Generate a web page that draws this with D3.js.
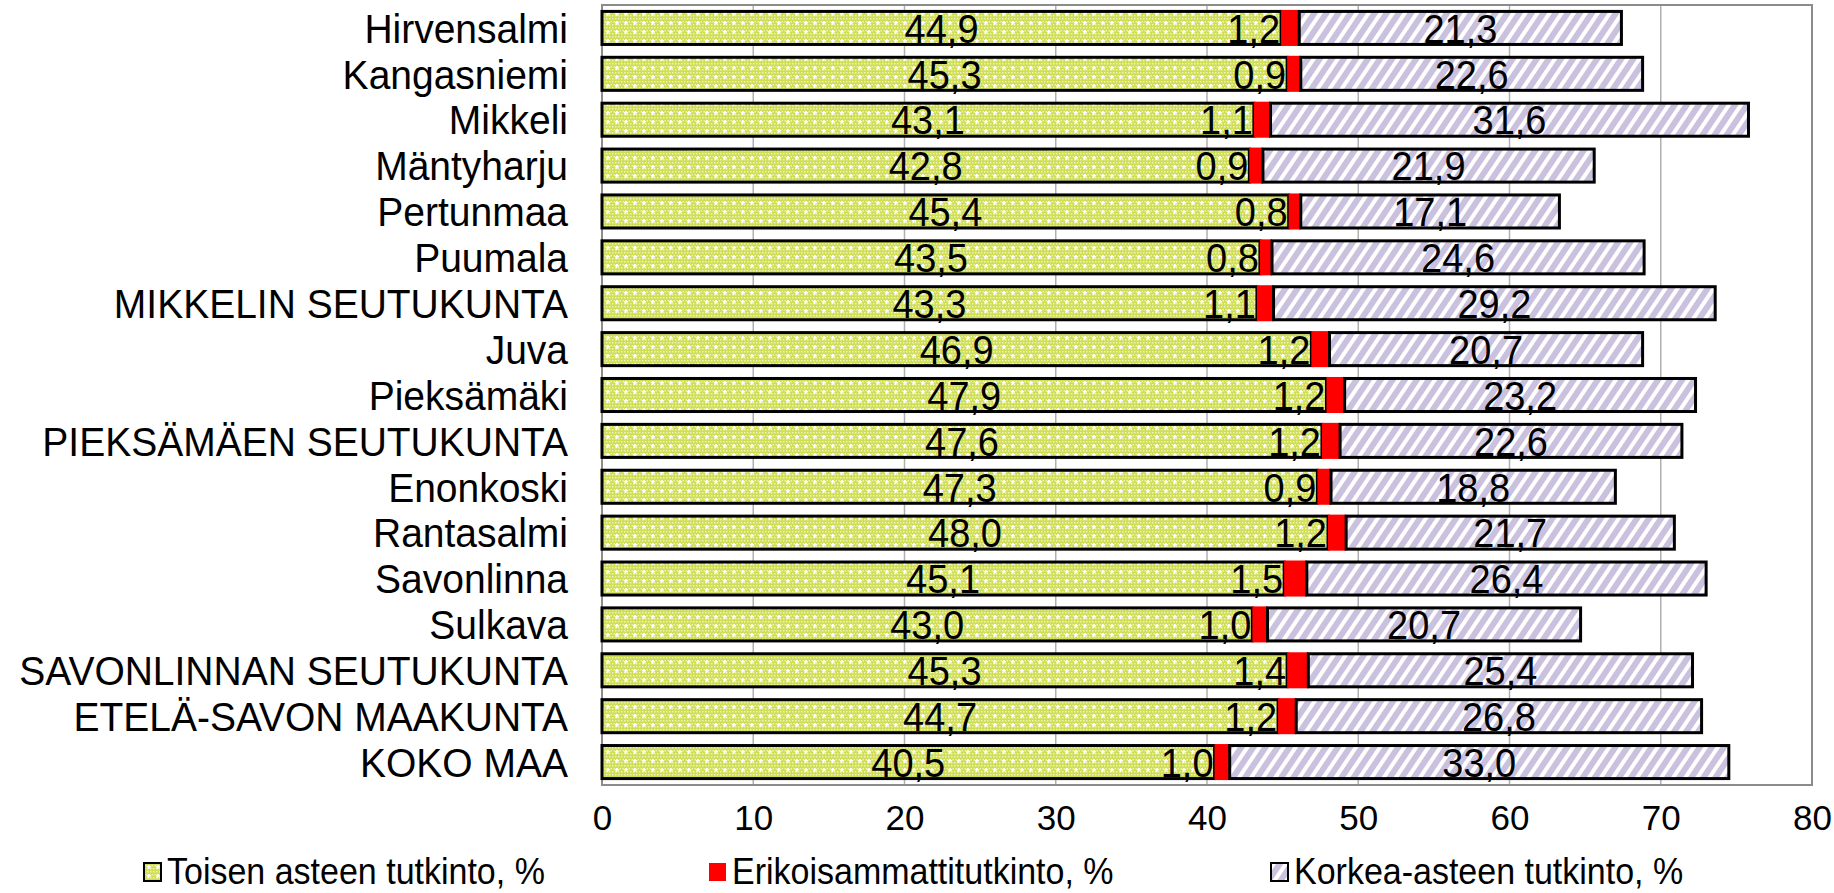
<!DOCTYPE html>
<html><head><meta charset="utf-8">
<script src="https://cdn.jsdelivr.net/npm/d3@7"></script>
<style>
html,body{margin:0;padding:0;background:#fff;}
svg{display:block;font-family:"Liberation Sans",Arial,sans-serif;}
</style></head>
<body>
<svg id="chart" width="1834" height="893"></svg>
<script>
const categories = ["Hirvensalmi","Kangasniemi","Mikkeli","Mäntyharju","Pertunmaa","Puumala","MIKKELIN SEUTUKUNTA","Juva","Pieksämäki","PIEKSÄMÄEN SEUTUKUNTA","Enonkoski","Rantasalmi","Savonlinna","Sulkava","SAVONLINNAN SEUTUKUNTA","ETELÄ-SAVON MAAKUNTA","KOKO MAA"];
const toisen = [44.9,45.3,43.1,42.8,45.4,43.5,43.3,46.9,47.9,47.6,47.3,48.0,45.1,43.0,45.3,44.7,40.5];
const erikois = [1.2,0.9,1.1,0.9,0.8,0.8,1.1,1.2,1.2,1.2,0.9,1.2,1.5,1.0,1.4,1.2,1.0];
const korkea = [21.3,22.6,31.6,21.9,17.1,24.6,29.2,20.7,23.2,22.6,18.8,21.7,26.4,20.7,25.4,26.8,33.0];
const seriesNames = ["Toisen asteen tutkinto, %","Erikoisammattitutkinto, %","Korkea-asteen tutkinto, %"];
const xTicks = [0,10,20,30,40,50,60,70,80];

const svg = d3.select("#chart");
const L = 602, R = 1812, T = 5, B = 785;
const x = d3.scaleLinear().domain([0,80]).range([L,R]);
const y = d3.scaleBand().domain(categories).range([T,B]).paddingInner(0.28).paddingOuter(0.14);
const fmt = v => d3.format(".1f")(v).replace(".", ",");

const defs = svg.append("defs");
// green dotted pattern
const pg = defs.append("pattern").attr("id","pGreen").attr("patternUnits","userSpaceOnUse").attr("width",9).attr("height",9);
pg.append("rect").attr("width",9).attr("height",9).attr("fill","#d0de55");
for (let i=0;i<9;i+=3) for (let j=0;j<9;j+=3) pg.append("rect").attr("x",i+(j%6?1.5:0)).attr("y",j).attr("width",1.5).attr("height",1.5).attr("fill","#eef3b8");
pg.append("rect").attr("x",4).attr("y",3).attr("width",1.5).attr("height",4).attr("fill","#ffffff");
pg.append("rect").attr("x",3).attr("y",4).attr("width",4).attr("height",1.5).attr("fill","#ffffff");
// purple striped pattern
const pp = defs.append("pattern").attr("id","pPurple").attr("patternUnits","userSpaceOnUse").attr("width",10).attr("height",10).attr("patternTransform","rotate(34)");
pp.append("rect").attr("width",10).attr("height",10).attr("fill","#c9c1dd");
pp.append("rect").attr("x",0).attr("width",4).attr("height",10).attr("fill","#ffffff");

// gridlines
svg.append("g").selectAll("line").data(xTicks.filter(t=>t>0 && t<80)).join("line")
  .attr("x1",d=>x(d)).attr("x2",d=>x(d)).attr("y1",T).attr("y2",B)
  .attr("stroke","#b0b0b0").attr("stroke-width",1.5);

// plot border
svg.append("rect").attr("x",L).attr("y",T).attr("width",R-L).attr("height",B-T)
  .attr("fill","none").attr("stroke","#8c8c8c").attr("stroke-width",2);

const rows = categories.map((c,i)=>({c, a:toisen[i], b:erikois[i], k:korkea[i]}));
const g = svg.append("g");
const bh = y.bandwidth();
// green
g.selectAll(".g1").data(rows).join("rect")
  .attr("x",x(0)).attr("y",d=>y(d.c)).attr("width",d=>x(d.a)-x(0)).attr("height",bh)
  .attr("fill","url(#pGreen)").attr("stroke","#000").attr("stroke-width",3);
// red
g.selectAll(".g2").data(rows).join("rect")
  .attr("x",d=>x(d.a)).attr("y",d=>y(d.c)-1.5).attr("width",d=>x(d.a+d.b)-x(d.a)).attr("height",bh+3)
  .attr("fill","#ff0000");
// purple
g.selectAll(".g3").data(rows).join("rect")
  .attr("x",d=>x(d.a+d.b)).attr("y",d=>y(d.c)).attr("width",d=>x(d.a+d.b+d.k)-x(d.a+d.b)).attr("height",bh)
  .attr("fill","url(#pPurple)").attr("stroke","#000").attr("stroke-width",3);

// data labels (slightly tall text like the original)
const fs = 38;
const sy = 1.08;
function tallText(sel, xf, anchor, tf){
  sel.attr("transform",d=>`translate(${xf(d)},${y(d.c)+bh/2}) scale(1,${sy})`)
     .attr("dy","0.36em").attr("text-anchor",anchor).text(tf);
}
const lab = svg.append("g").attr("font-size",fs).attr("fill","#000");
tallText(lab.selectAll(".l1").data(rows).join("text"), d=>x(d.a/2), "middle", d=>fmt(d.a));
tallText(lab.selectAll(".l2").data(rows).join("text"), d=>x(d.a)-1, "end", d=>fmt(d.b));
tallText(lab.selectAll(".l3").data(rows).join("text"), d=>x(d.a+d.b+d.k/2), "middle", d=>fmt(d.k));

// category labels
svg.append("g").attr("font-size",39).selectAll("text").data(categories).join("text")
  .attr("transform",d=>`translate(568,${y(d)+bh/2}) scale(1,1.05)`)
  .attr("dy","0.36em").attr("text-anchor","end").text(d=>d);

// x axis
const xa = svg.append("g").attr("transform",`translate(0,${B})`)
  .call(d3.axisBottom(x).tickValues(xTicks).tickSize(0).tickPadding(20).tickFormat(d3.format("d")));
xa.select(".domain").remove();
xa.selectAll("text").attr("font-size",35).attr("font-family","Liberation Sans, Arial, sans-serif").attr("fill","#000");

// legend
const legX = [144, 709, 1271];
const legCol = ["url(#pGreen)","#ff0000","url(#pPurple)"];
const lg = svg.append("g").attr("transform","translate(0,871)");
seriesNames.forEach((s,i)=>{
  lg.append("rect").attr("x",legX[i]).attr("y",-8).attr("width",17).attr("height",18)
    .attr("fill",legCol[i]).attr("stroke", i===1?"none":"#000").attr("stroke-width",2);
  lg.append("text").attr("transform",`translate(${legX[i]+23},0) scale(1,1.08)`)
    .attr("dy","0.36em").attr("font-size",34).text(s);
});
</script>
</body></html>
